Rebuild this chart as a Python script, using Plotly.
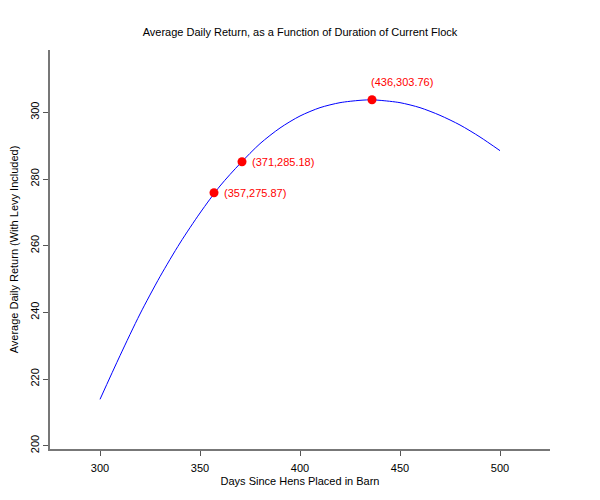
import plotly.graph_objects as go

# Curve
days = [300, 310, 320, 330, 340, 350, 360, 370, 380, 390, 400, 410, 420, 430, 436,
        440, 450, 460, 470, 480, 490, 500]
avg_return = [213.9, 227.0, 239.5, 250.7, 260.8, 269.8, 277.9, 284.6, 290.6, 295.3,
              298.9, 301.4, 302.9, 303.6, 303.76, 303.6, 302.9, 301.4, 299.1, 296.2,
              292.6, 288.5]

# Highlighted points
mark_days = [357, 371, 436]
mark_vals = [275.87, 285.18, 303.76]
mark_labels = ["(357,275.87)", "(371,285.18)", "(436,303.76)"]

FONT = "Liberation Sans, Arial, Helvetica, sans-serif"
AXIS_GRAY = "#777777"

# The page body has an 8px margin, so the figure is 8px smaller on each leading side
W, H = 592, 492

fig = go.Figure()
fig.add_trace(go.Scatter(
    x=days, y=avg_return, mode="lines",
    line=dict(color="#0000ff", width=1, shape="spline", smoothing=0.8),
    showlegend=False, hoverinfo="skip"))
fig.add_trace(go.Scatter(
    x=mark_days, y=mark_vals, mode="markers",
    marker=dict(color="#ff0000", size=9),
    showlegend=False))

placements = [dict(xanchor="left", yanchor="middle", xshift=8, yshift=0),
              dict(xanchor="left", yanchor="middle", xshift=8, yshift=0),
              dict(xanchor="left", yanchor="middle", xshift=-3, yshift=18)]
for xd, yv, lab, pl in zip(mark_days, mark_vals, mark_labels, placements):
    fig.add_annotation(x=xd, y=yv, text=lab, showarrow=False,
                       font=dict(color="#ff0000", size=11, family=FONT), **pl)

fig.update_layout(
    width=W, height=H,
    paper_bgcolor="white", plot_bgcolor="white",
    margin=dict(l=42, r=50, t=42, b=51, autoexpand=False),
    font=dict(family=FONT, size=11, color="#000000"),
    title=dict(text="Average Daily Return, as a Function of Duration of Current Flock",
               x=(300 - 8) / W, xanchor="center", y=1 - 24 / H, yanchor="middle",
               font=dict(size=11, family=FONT, color="#000000")),
    xaxis=dict(range=[275, 525], tick0=300, dtick=50, showgrid=False, zeroline=False,
               showline=True, linecolor=AXIS_GRAY, linewidth=2,
               ticks="outside", ticklen=5, tickcolor="#555555", tickwidth=1,
               ticklabelstandoff=3, automargin=False,
               tickfont=dict(size=11, family=FONT),
               title=dict(text="Days Since Hens Placed in Barn", standoff=4,
                          font=dict(size=11, family=FONT))),
    yaxis=dict(range=[199.0, 318.7], tick0=200, dtick=20, showgrid=False, zeroline=False,
               showline=True, linecolor=AXIS_GRAY, linewidth=2,
               ticks="outside", ticklen=5, tickcolor="#555555", tickwidth=1,
               tickangle=-90, automargin=False,
               tickfont=dict(size=11, family=FONT),
               title=dict(text="Average Daily Return (With Levy Included)", standoff=8,
                          font=dict(size=11, family=FONT))),
)

fig.write_html("out.html")
